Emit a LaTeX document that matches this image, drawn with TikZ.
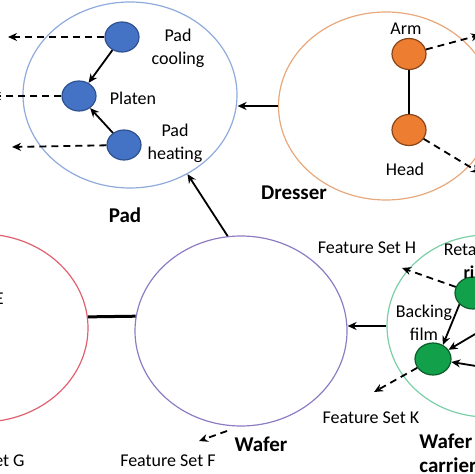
\documentclass[tikz,border=0pt]{standalone}
\usepackage{fontspec}
\setmainfont{Carlito}
\usetikzlibrary{shapes.geometric,arrows.meta}
\definecolor{padblue}{HTML}{4472C4}
\definecolor{padedge}{HTML}{2F528F}
\definecolor{padline}{HTML}{8FAADC}
\definecolor{dresorange}{HTML}{ED7D31}
\definecolor{dresedge}{HTML}{8A4518}
\definecolor{dresline}{HTML}{E8A87C}
\definecolor{waferline}{HTML}{8E7CC3}
\definecolor{redline}{HTML}{E0606E}
\definecolor{cargreen}{HTML}{12A04A}
\definecolor{caredge}{HTML}{0B5E2A}
\definecolor{carline}{HTML}{7ACFA6}
\begin{document}
\begin{tikzpicture}[x=0.5pt,y=-0.5pt,>={Stealth[length=4.5pt,width=4pt]},font=\fontsize{9}{11.5}\selectfont]
    \tikzstyle{grp}=[ellipse,draw,line width=0.6pt,inner sep=0pt]
    \tikzstyle{comp}=[ellipse,draw,line width=0.6pt,minimum width=17pt,minimum height=15pt,inner sep=0pt]
    \tikzstyle{flow}=[->,line width=0.9pt]
    \tikzstyle{feat}=[->,line width=0.9pt,dash pattern=on 3.5pt off 2.5pt]
    \tikzstyle{lbl}=[align=center,inner sep=1pt]
    \tikzstyle{grplbl}=[font=\fontsize{10.5}{12}\selectfont\bfseries,align=left,inner sep=1pt]

    \useasboundingbox (0,0) rectangle (474,474);

    % pad
    \node[grp,draw=padline,minimum width=107pt,minimum height=93pt] (pad) at (130,95) {};
    \foreach \n/\x/\y in {cool/122/37,platen/79/96,heat/124/145}
    \node[comp,fill=padblue,draw=padedge] (\n) at (\x,\y) {};
    \node[lbl] (cool-t) at (178,48) {Pad\\cooling};
    \node[lbl] (platen-t) at (133,98) {Platen};
    \node[lbl] (heat-t) at (175,143) {Pad\\heating};
    \node[grplbl] (pad-t) at (125,215) {Pad};
    \draw[flow] (cool) -- (platen);
    \draw[flow] (heat) -- (platen);
    \coordinate (out-cool) at (8,37);
    \coordinate (out-platen) at (-8,96);
    \coordinate (out-heat) at (12,147);
    \foreach \n in {cool,platen,heat}
    \draw[feat] (\n) -- (out-\n);

    % dresser
    \node[grp,draw=dresline,minimum width=107.5pt,minimum height=94pt] (dresser) at (386,106) {};
    \node[comp,fill=dresorange,draw=dresedge,minimum height=15.5pt] (arm) at (409,54) {};
    \node[comp,fill=dresorange,draw=dresedge,minimum height=15.5pt] (head) at (409,130) {};
    \node[lbl] (arm-t) at (406,29) {Arm};
    \node[lbl] (head-t) at (405,169) {Head};
    \node[grplbl] (dresser-t) at (294,193) {Dresser};
    \draw[line width=0.9pt] (arm) -- (head);
    \coordinate (out-arm) at (480,35);
    \coordinate (out-head) at (480,173);
    \draw[feat] (arm) -- (out-arm);
    \draw[feat] (head) -- (out-head);
    \draw[flow] (dresser.west) -- (dresser.west -| pad.east);

    % wafer
    \node[grp,draw=waferline,minimum width=106pt,minimum height=95pt] (wafer) at (241,331) {};
    \node[grplbl] (wafer-t) at (261,444) {Wafer};
    \node[lbl] (fsF) at (168,461) {Feature Set F};
    \coordinate (wafer-out) at (227,431);
    \coordinate (fsF-in) at (199,441);
    \draw[feat] (wafer-out) -- (fsF-in);
    \draw[flow] (wafer.98) -- (pad.-54);

    % left group
    \node[grp,draw=redline,minimum width=106pt,minimum height=94pt] (grpE) at (-18,328) {};
    \node[lbl,anchor=base east,inner sep=0pt] (fsE) at (4,305) {Feature Set E};
    \node[lbl,anchor=east] (fsG) at (27,461) {Feature Set G};
    \draw[line width=1.5pt] (grpE.6.5) -- (wafer.172);

    % wafer carrier
    \node[grp,draw=carline,minimum width=100pt,minimum height=91pt] (carrier) at (487,326) {};
    \node[comp,fill=cargreen,draw=caredge,minimum width=18pt,minimum height=16pt] (retain) at (473,293) {};
    \node[comp,fill=cargreen,draw=caredge,minimum width=18pt,minimum height=16pt] (backing) at (433,359) {};
    \node[lbl] (retain-t) at (478,262) {Retaining\\\textbf{ring}};
    \node[lbl] (backing-t) at (424,323) {Backing\\film};
    \node[lbl] (fsH) at (367,248) {Feature Set H};
    \node[lbl] (fsK) at (371,418) {Feature Set K};
    \node[grplbl,anchor=west] (carrier-t) at (417,453) {Wafer\\carrier};
    \coordinate (in-a) at (482,330);
    \coordinate (in-b) at (482,367);
    \draw[flow] (retain.220) -- (backing.55);
    \draw[flow] (in-a) -- (backing);
    \draw[flow] (in-b) -- (backing);
    \coordinate (fsH-in) at (402,268);
    \coordinate (fsK-in) at (374,392);
    \draw[feat] (retain) -- (fsH-in);
    \draw[feat] (backing) -- (fsK-in);
    \draw[flow] (carrier.west) -- (carrier.west -| wafer.east);
\end{tikzpicture}
\end{document}
